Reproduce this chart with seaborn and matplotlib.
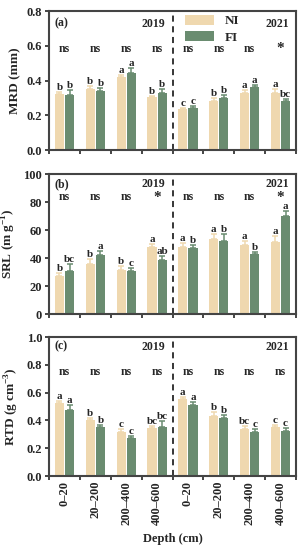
import numpy as np
import pandas as pd
import matplotlib
matplotlib.use('Agg')
import matplotlib.pyplot as plt
import seaborn as sns
from matplotlib.transforms import blended_transform_factory
from matplotlib.patches import Patch

depths = ['0–20', '20–200', '200–400', '400–600']
years = ['2019', '2021']
treatments = ['NI', 'FI']
groups = [y + ' ' + d for y in years for d in depths]

# MRD (mm)
mrd_ni = [0.32, 0.35, 0.42, 0.305, 0.235, 0.285, 0.33, 0.33]
mrd_fi = [0.315, 0.34, 0.445, 0.33, 0.245, 0.30, 0.365, 0.28]
mrd_ni_err = [0.015, 0.02, 0.012, 0.008, 0.008, 0.012, 0.018, 0.02]
mrd_fi_err = [0.03, 0.018, 0.03, 0.02, 0.01, 0.015, 0.008, 0.012]
mrd_ni_let = ['b', 'b', 'a', 'b', 'c', 'b', 'a', 'a']
mrd_fi_let = ['b', 'b', 'a', 'b', 'c', 'b', 'a', 'bc']
mrd_sig = ['ns', 'ns', 'ns', 'ns', 'ns', 'ns', 'ns', '*']

# SRL (m g-1)
srl_ni = [27.5, 35.4, 31.4, 48.0, 47.9, 53.4, 49.1, 51.7]
srl_fi = [31.0, 41.9, 30.9, 38.3, 47.4, 52.0, 42.6, 69.9]
srl_ni_err = [2.0, 4.0, 3.0, 2.0, 3.0, 4.0, 3.0, 4.0]
srl_fi_err = [5.0, 3.0, 2.0, 3.0, 2.0, 5.0, 2.0, 4.0]
srl_ni_let = ['b', 'b', 'b', 'a', 'a', 'a', 'a', 'a']
srl_fi_let = ['bc', 'a', 'c', 'ab', 'b', 'b', 'b', 'a']
srl_sig = ['ns', 'ns', 'ns', '*', 'ns', 'ns', 'ns', '*']

# RTD (g cm-3)
rtd_ni = [0.525, 0.40, 0.315, 0.346, 0.556, 0.43, 0.341, 0.353]
rtd_fi = [0.478, 0.356, 0.275, 0.35, 0.513, 0.415, 0.32, 0.327]
rtd_ni_err = [0.015, 0.015, 0.025, 0.012, 0.015, 0.03, 0.018, 0.015]
rtd_fi_err = [0.035, 0.012, 0.015, 0.045, 0.02, 0.025, 0.02, 0.015]
rtd_ni_let = ['a', 'b', 'c', 'bc', 'a', 'b', 'bc', 'c']
rtd_fi_let = ['a', 'b', 'c', 'bc', 'a', 'b', 'c', 'c']
rtd_sig = ['ns'] * 8

colors = ['#EFD8AF', '#6A8C70']

sns.set_style('ticks')
plt.rcParams['font.family'] = ['Liberation Serif', 'DejaVu Serif']
plt.rcParams['font.weight'] = 'bold'
plt.rcParams['axes.labelweight'] = 'bold'
plt.rcParams['mathtext.fontset'] = 'custom'
plt.rcParams['mathtext.rm'] = 'Liberation Serif:bold'
plt.rcParams['mathtext.bf'] = 'Liberation Serif:bold'

fig = plt.figure(figsize=(3.07, 5.5), dpi=100)
ax_a = fig.add_axes([0.16, 0.727, 0.804, 0.253])
ax_b = fig.add_axes([0.16, 0.429, 0.804, 0.2545])
ax_c = fig.add_axes([0.16, 0.1345, 0.804, 0.2527])


def panel(ax, ni, fi, ni_err, fi_err, ni_let, fi_let, sig, ylim, yticks,
          ylabel, tag, ns_y, top_y, fmt):
    df = pd.DataFrame({
        'group': groups * 2,
        'trt': ['NI'] * 8 + ['FI'] * 8,
        'value': ni + fi,
    })
    sns.barplot(data=df, x='group', y='value', hue='trt', order=groups,
                hue_order=treatments, palette=colors, saturation=1,
                width=0.66, gap=0.1, errorbar=None, linewidth=0,
                legend=False, ax=ax)
    for cont, errs, lets, col in zip(ax.containers, [ni_err, fi_err],
                                     [ni_let, fi_let], colors):
        xs = [p.get_x() + p.get_width() / 2 for p in cont.patches]
        hs = [p.get_height() for p in cont.patches]
        ax.errorbar(xs, hs, yerr=[np.zeros(8), errs], fmt='none',
                    ecolor=col, elinewidth=1.1, capsize=2, capthick=1.1)
        for x, h, e, t in zip(xs, hs, errs, lets):
            ax.annotate(t, (x, h + e), xytext=(0, 0), textcoords='offset points',
                        ha='center', va='bottom', fontsize=8, fontweight='bold')
    tr = blended_transform_factory(ax.transData, ax.transAxes)
    for i, s in enumerate(sig):
        if s == 'ns':
            ax.text(i, ns_y, s, transform=tr, ha='center', va='center',
                    fontsize=8.5, fontweight='bold')
        else:
            # asterisk as mathtext so its box hugs the glyph
            ax.text(i, ns_y + 0.015, '$*$', transform=tr, ha='center',
                    va='center', fontsize=11)
    ax.text(-0.32, top_y, tag, transform=tr, ha='left', va='center',
            fontsize=8.5, fontweight='bold')
    ax.text(3.25, top_y, '2019', transform=tr, ha='right', va='center',
            fontsize=8.5, fontweight='bold')
    ax.text(7.28, top_y, '2021', transform=tr, ha='right', va='center',
            fontsize=8.5, fontweight='bold')
    ax.axvline(3.5, color='black', lw=1.1, ls=(0, (4, 3)))
    ax.set_xlim(-0.5, 7.5)
    ax.set_ylim(*ylim)
    ax.set_yticks(yticks)
    ax.set_yticklabels([fmt.format(v) for v in yticks])
    ax.set_xticks(range(8))
    ax.set_xticks(np.arange(-0.5, 8, 1), minor=True)
    ax.tick_params(axis='x', which='major', length=0)
    ax.tick_params(axis='x', which='minor', length=3, width=1.2, direction='out')
    ax.tick_params(axis='y', length=3, width=1.2, direction='out', labelsize=9,
                   pad=2)
    ax.set_ylabel(ylabel, fontsize=9.5, fontweight='bold', labelpad=4)
    ax.set_xlabel('')
    for sp in ax.spines.values():
        sp.set_visible(True)
        sp.set_linewidth(1.5)
        sp.set_color('#444444')


panel(ax_a, mrd_ni, mrd_fi, mrd_ni_err, mrd_fi_err, mrd_ni_let, mrd_fi_let,
      mrd_sig, (0, 0.8), np.arange(0, 0.81, 0.2), 'MRD (mm)', '(a)',
      0.73, 0.91, '{:.1f}')
panel(ax_b, srl_ni, srl_fi, srl_ni_err, srl_fi_err, srl_ni_let, srl_fi_let,
      srl_sig, (0, 100), np.arange(0, 101, 20), 'SRL (m g$^{-1}$)', '(b)',
      0.835, 0.93, '{:.0f}')
panel(ax_c, rtd_ni, rtd_fi, rtd_ni_err, rtd_fi_err, rtd_ni_let, rtd_fi_let,
      rtd_sig, (0, 1.0), np.arange(0, 1.01, 0.2), 'RTD (g cm$^{-3}$)', '(c)',
      0.75, 0.93, '{:.1f}')

for ax in (ax_a, ax_b):
    ax.set_xticklabels([])
ax_c.set_xticklabels(depths * 2, rotation=90, fontsize=9, fontweight='bold')
ax_c.set_xlabel('Depth (cm)', fontsize=9, fontweight='bold', labelpad=6)

handles = [Patch(facecolor=c, edgecolor='none') for c in colors]
ax_a.legend(handles, treatments, loc='upper left', bbox_to_anchor=(0.52, 1.03),
            frameon=False, handlelength=2.2, handleheight=0.8,
            labelspacing=0.3, handletextpad=0.8, borderaxespad=0.2,
            prop={'weight': 'bold', 'size': 9.5})

fig.savefig('out.png', dpi=100)
